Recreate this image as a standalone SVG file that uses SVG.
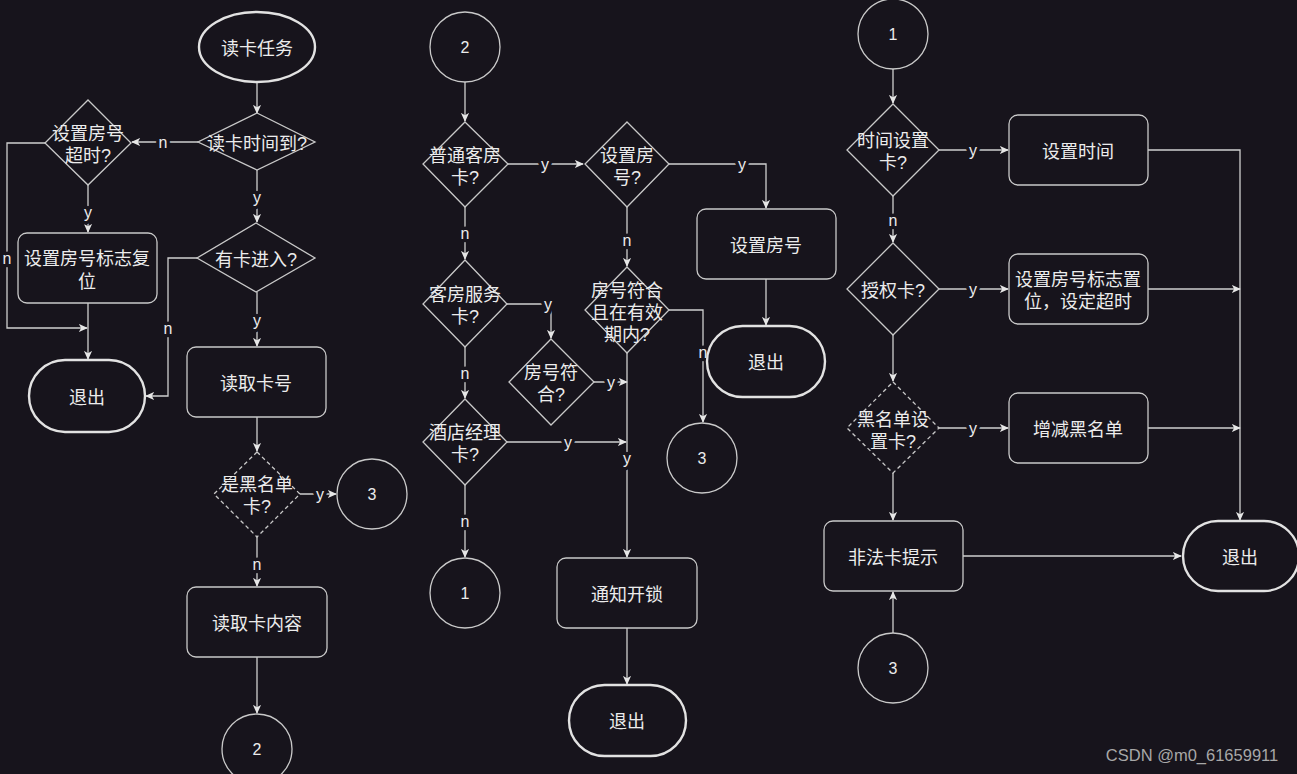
<svg xmlns="http://www.w3.org/2000/svg" width="1297" height="774" viewBox="0 0 1297 774">
<defs>
<marker id="ah" viewBox="0 0 10 10" refX="9" refY="5" markerWidth="9" markerHeight="9" markerUnits="userSpaceOnUse" orient="auto">
<path d="M0,0.5 L10,5 L0,9.5 L2.5,5 z" fill="#e6e6e6"/>
</marker>
<style>
.n{fill:#17141c;stroke:#c9c9c9;stroke-width:1.3}
.t{fill:#17141c;stroke:#e2e2e2;stroke-width:2.4}
.d{stroke-dasharray:4 3}
text{font-family:"Liberation Sans","Noto Sans CJK SC",sans-serif;fill:#ececec;text-anchor:middle;dominant-baseline:central}
tspan{dominant-baseline:central}
.tx{font-size:18px;transform:translateY(1.5px)}
.lb{font-size:16px;stroke:#17141c;stroke-width:7;paint-order:stroke;stroke-linejoin:round}
.num{font-size:16px}
.c path{fill:none;stroke:#cfcfcf;stroke-width:1.3;marker-end:url(#ah)}
</style>
</defs>
<rect width="1297" height="774" fill="#17141c"/>

<g class="c" id="connectors">
<path d="M257,82 V113"/>
<path d="M198,142 H132"/>
<path d="M88,185 V232"/>
<path d="M45,143 H7 V328 H87"/>
<path d="M88,303 V359"/>
<path d="M257,170 V222"/>
<path d="M197,258 H168 V396 H146"/>
<path d="M257,292 V346"/>
<path d="M257,417 V451"/>
<path d="M300,494 H336"/>
<path d="M257,537 V586"/>
<path d="M257,657 V713"/>
<path d="M465,82 V121"/>
<path d="M508,164 H583"/>
<path d="M669,164 H766 V208"/>
<path d="M766,279 V325"/>
<path d="M465,207 V259"/>
<path d="M507,304 H551 V338"/>
<path d="M594,382 H627"/>
<path d="M627,207 V266"/>
<path d="M669,310 H703 V422"/>
<path d="M627,353 V557"/>
<path d="M465,347 V398"/>
<path d="M507,442 H626"/>
<path d="M465,485 V557"/>
<path d="M627,628 V684"/>
<path d="M893,69 V103"/>
<path d="M939,150 H1008"/>
<path d="M1148,150 H1240 V520"/>
<path d="M893,196 V242"/>
<path d="M939,289 H1008"/>
<path d="M1148,289 H1240"/>
<path d="M893,335 V381"/>
<path d="M939,428 H1008"/>
<path d="M1148,428 H1240"/>
<path d="M893,473 V520"/>
<path d="M963,556 H1181"/>
<path d="M893,633 V592"/>
<text class="lb" x="163" y="142">n</text>
<text class="lb" x="88" y="212">y</text>
<text class="lb" x="7" y="258">n</text>
<text class="lb" x="257" y="197">y</text>
<text class="lb" x="168" y="328">n</text>
<text class="lb" x="257" y="320">y</text>
<text class="lb" x="320" y="494">y</text>
<text class="lb" x="257" y="564">n</text>
<text class="lb" x="545" y="164">y</text>
<text class="lb" x="742" y="164">y</text>
<text class="lb" x="465" y="233">n</text>
<text class="lb" x="548" y="304">y</text>
<text class="lb" x="611" y="382">y</text>
<text class="lb" x="627" y="240">n</text>
<text class="lb" x="703" y="352">n</text>
<text class="lb" x="627" y="458">y</text>
<text class="lb" x="465" y="373">n</text>
<text class="lb" x="568" y="442">y</text>
<text class="lb" x="465" y="521">n</text>
<text class="lb" x="973" y="150">y</text>
<text class="lb" x="893" y="220">n</text>
<text class="lb" x="973" y="289">y</text>
<text class="lb" x="973" y="428">y</text>
</g>

<g id="start"><ellipse class="t" cx="257" cy="47" rx="58" ry="35"/><text class="tx" x="257" y="47">读卡任务</text></g>
<g id="q-time"><polygon class="n" points="257,113 315,142 257,170 198,142"/><text class="tx" x="257" y="142">读卡时间到?</text></g>
<g id="q-timeout"><polygon class="n" points="88,100 131,143 88,185 45,143"/><text class="tx"><tspan x="88" y="132">设置房号</tspan><tspan x="88" dy="22">超时?</tspan></text></g>
<g id="reset"><rect class="n" x="18" y="233" width="139" height="70" rx="9"/><text class="tx"><tspan x="87" y="257">设置房号标志复</tspan><tspan x="87" dy="23">位</tspan></text></g>
<g id="exit1"><rect class="t" x="29" y="360" width="116" height="72" rx="36"/><text class="tx" x="87" y="396">退出</text></g>
<g id="q-card"><polygon class="n" points="256,223 315,258 256,292 197,258"/><text class="tx" x="256" y="258">有卡进入?</text></g>
<g id="readno"><rect class="n" x="187" y="347" width="139" height="70" rx="9"/><text class="tx" x="256" y="382">读取卡号</text></g>
<g id="q-black"><polygon class="n d" points="257,452 300,494 257,537 214,494"/><text class="tx"><tspan x="257" y="483">是黑名单</tspan><tspan x="257" dy="22">卡?</tspan></text></g>
<g id="c3a"><circle class="n" cx="372" cy="494" r="35"/><text class="num" x="372" y="494">3</text></g>
<g id="readct"><rect class="n" x="187" y="587" width="140" height="70" rx="9"/><text class="tx" x="257" y="622">读取卡内容</text></g>
<g id="c2a"><circle class="n" cx="257" cy="749" r="35"/><text class="num" x="257" y="749">2</text></g>

<g id="c2b"><circle class="n" cx="465" cy="47" r="35"/><text class="num" x="465" y="47">2</text></g>
<g id="q-guest"><polygon class="n" points="465,122 508,164 465,207 423,164"/><text class="tx"><tspan x="465" y="154">普通客房</tspan><tspan x="465" dy="22">卡?</tspan></text></g>
<g id="q-setroom"><polygon class="n" points="627,122 669,164 627,207 585,164"/><text class="tx"><tspan x="627" y="154">设置房</tspan><tspan x="627" dy="22">号?</tspan></text></g>
<g id="setroom"><rect class="n" x="697" y="209" width="139" height="70" rx="9"/><text class="tx" x="766" y="244">设置房号</text></g>
<g id="exit2"><rect class="t" x="707" y="326" width="118" height="71" rx="35.5"/><text class="tx" x="766" y="361">退出</text></g>
<g id="q-service"><polygon class="n" points="465,260 507,304 465,347 423,304"/><text class="tx"><tspan x="465" y="293">客房服务</tspan><tspan x="465" dy="22">卡?</tspan></text></g>
<g id="q-match"><polygon class="n" points="551,339 594,382 551,425 509,382"/><text class="tx"><tspan x="551" y="371">房号符</tspan><tspan x="551" dy="22">合?</tspan></text></g>
<g id="q-valid"><polygon class="n" points="627,267 669,310 627,353 585,310"/><text class="tx"><tspan x="627" y="289">房号符合</tspan><tspan x="627" dy="22">且在有效</tspan><tspan x="627" dy="22">期内?</tspan></text></g>
<g id="c3b"><circle class="n" cx="702" cy="458" r="35"/><text class="num" x="702" y="458">3</text></g>
<g id="q-manager"><polygon class="n" points="465,399 507,442 465,485 423,442"/><text class="tx"><tspan x="465" y="431">酒店经理</tspan><tspan x="465" dy="22">卡?</tspan></text></g>
<g id="c1a"><circle class="n" cx="465" cy="593" r="35"/><text class="num" x="465" y="593">1</text></g>
<g id="unlock"><rect class="n" x="557" y="558" width="140" height="70" rx="9"/><text class="tx" x="627" y="593">通知开锁</text></g>
<g id="exit3"><rect class="t" x="569" y="685" width="117" height="71" rx="35.5"/><text class="tx" x="627" y="720">退出</text></g>

<g id="c1b"><circle class="n" cx="893" cy="34" r="35"/><text class="num" x="893" y="34">1</text></g>
<g id="q-timecard"><polygon class="n" points="893,104 939,150 893,196 847,150"/><text class="tx"><tspan x="893" y="139">时间设置</tspan><tspan x="893" dy="22">卡?</tspan></text></g>
<g id="settime"><rect class="n" x="1009" y="115" width="139" height="70" rx="9"/><text class="tx" x="1078" y="150">设置时间</text></g>
<g id="q-auth"><polygon class="n" points="893,243 939,289 893,335 847,289"/><text class="tx" x="893" y="289">授权卡?</text></g>
<g id="setflag"><rect class="n" x="1009" y="254" width="139" height="70" rx="9"/><text class="tx"><tspan x="1078" y="278">设置房号标志置</tspan><tspan x="1078" dy="22">位，设定超时</tspan></text></g>
<g id="q-blackset"><polygon class="n d" points="893,382 939,428 893,473 847,428"/><text class="tx"><tspan x="893" y="418">黑名单设</tspan><tspan x="893" dy="22">置卡?</tspan></text></g>
<g id="blacklist"><rect class="n" x="1009" y="393" width="139" height="70" rx="9"/><text class="tx" x="1078" y="428">增减黑名单</text></g>
<g id="illegal"><rect class="n" x="824" y="521" width="139" height="70" rx="9"/><text class="tx" x="893" y="556">非法卡提示</text></g>
<g id="exit4"><rect class="t" x="1183" y="521" width="116" height="70" rx="35"/><text class="tx" x="1240" y="556">退出</text></g>
<g id="c3c"><circle class="n" cx="893" cy="668" r="35"/><text class="num" x="893" y="668">3</text></g>

<text x="1192" y="755" style="font-family:'Liberation Sans',Arial,sans-serif;font-size:16.5px;fill:#a8a8a8">CSDN @m0_61659911</text>
</svg>
